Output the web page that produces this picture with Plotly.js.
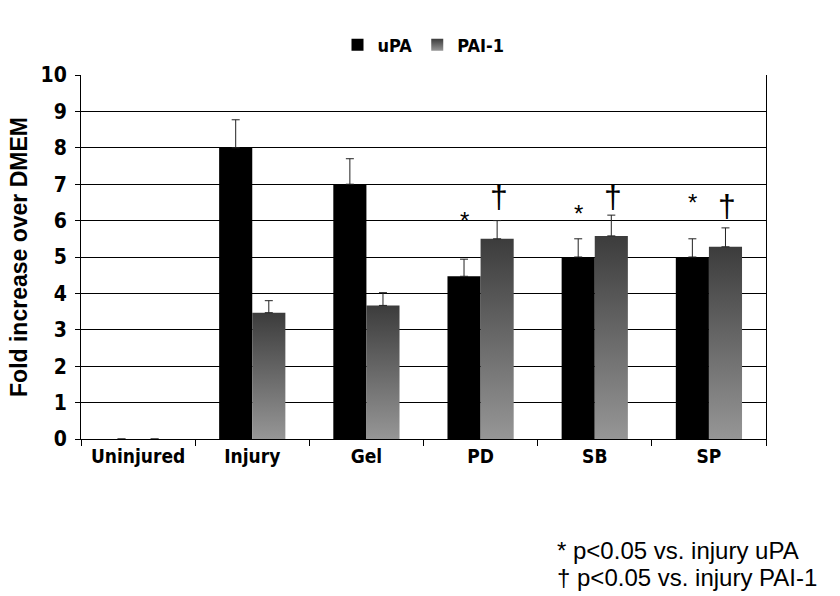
<!DOCTYPE html>
<html>
<head>
<meta charset="utf-8">
<script src="https://cdn.plot.ly/plotly-3.0.1.min.js"></script>
<style>html,body{margin:0;padding:0;background:#fff;}#chart{width:840px;height:596px;}</style>
</head>
<body>
<div id="chart"></div>
<script>
const categories = ["Uninjured", "Injury", "Gel", "PD", "SB", "SP"];
const uPA = [0, 8.0, 7.0, 4.47, 5.0, 5.0];
const uPAerr = [0, 0.77, 0.7, 0.47, 0.5, 0.5];
const PAI1 = [0, 3.47, 3.67, 5.5, 5.58, 5.28];
const PAI1err = [0, 0.33, 0.35, 0.5, 0.57, 0.52];
const starCats = ["PD", "SB", "SP"];
const starY = [6.0, 6.2, 6.5];
const daggerCats = ["PD", "SB", "SP"];
const daggerY = [6.65, 6.65, 6.4];
const yTicks = [0,1,2,3,4,5,6,7,8,9,10];

const narrow = "DejaVu Sans Condensed, Liberation Sans Narrow, Arial Narrow, sans-serif";
const errStyle = {type:"data", symmetric:false, arrayminus:[0,0,0,0,0,0], color:"#222", thickness:1, width:4};

const traces = [
  {type:"bar", name:"uPA", x:categories, y:uPA, marker:{color:"#000", line:{color:"#000", width:0}},
   error_y:Object.assign({}, errStyle, {array:uPAerr})},
  {type:"bar", name:"PAI-1", x:categories, y:PAI1, marker:{color:"#6a6a6a", line:{color:"#333", width:0}},
   error_y:Object.assign({}, errStyle, {array:PAI1err})}
];

const annotations = [];
starCats.forEach((c,i)=>annotations.push({x:c, y:starY[i], xref:"x", yref:"y", text:"*", showarrow:false, xshift:-16, font:{family:"Liberation Sans, Arial", size:24, color:"#000"}}));
daggerCats.forEach((c,i)=>annotations.push({x:c, y:daggerY[i], xref:"x", yref:"y", text:"†", showarrow:false, xshift:18, font:{family:"Liberation Sans, Arial", size:32, color:"#000"}}));
annotations.push({xref:"paper", yref:"paper", x:0.692, y:-0.305, xanchor:"left", yanchor:"middle", align:"left", showarrow:false,
  text:"* p<0.05 vs. injury uPA", font:{family:"Liberation Sans, Arial", size:24, color:"#000"}});
annotations.push({xref:"paper", yref:"paper", x:0.692, y:-0.38, xanchor:"left", yanchor:"middle", align:"left", showarrow:false,
  text:"† p<0.05 vs. injury PAI-1", font:{family:"Liberation Sans, Arial", size:24, color:"#000"}});

const layout = {
  width:840, height:596,
  margin:{l:81, r:74, t:75, b:157},
  paper_bgcolor:"#fff", plot_bgcolor:"#fff",
  barmode:"group", bargap:0.42, bargroupgap:0,
  showlegend:true,
  legend:{orientation:"h", x:0.5, xanchor:"center", y:1.082, yanchor:"middle", font:{family:narrow, size:18, color:"#000", weight:"bold"}, itemwidth:30, tracegroupgap:0},
  xaxis:{type:"category", showline:true, linecolor:"#000", linewidth:1, ticks:"outside", ticklen:6, tickcolor:"#000", tickson:"boundaries",
    showgrid:false, tickfont:{family:narrow, size:19, color:"#000", weight:"bold"}, fixedrange:true},
  yaxis:{range:[0,10], tickvals:yTicks, showline:true, mirror:true, linecolor:"#000", linewidth:1, ticks:"outside", ticklen:5, tickcolor:"#000",
    showgrid:true, gridcolor:"#000", gridwidth:1, zeroline:false, ticklabelstandoff:4,
    tickfont:{family:narrow, size:21, color:"#000", weight:"bold"},
    title:{text:"Fold increase over DMEM", font:{family:"Liberation Sans, Arial", size:23, color:"#000", weight:"bold"}, standoff:6}},
  annotations:annotations
};

function applyGradient(gd){
  const svg = gd.querySelector("svg.main-svg");
  if(!svg) return;
  let defs = svg.querySelector("defs");
  if(!svg.querySelector("#paiGrad")){
    const ns="http://www.w3.org/2000/svg";
    const g=document.createElementNS(ns,"linearGradient");
    g.setAttribute("id","paiGrad"); g.setAttribute("x1","0"); g.setAttribute("y1","0"); g.setAttribute("x2","0"); g.setAttribute("y2","1");
    [["0","#3c3c3c"],["1","#969696"]].forEach(s=>{const st=document.createElementNS(ns,"stop"); st.setAttribute("offset",s[0]); st.setAttribute("stop-color",s[1]); g.appendChild(st);});
    defs.appendChild(g);
  }
  const bars = gd.querySelectorAll(".barlayer .trace.bars");
  if(bars[1]) bars[1].querySelectorAll("path").forEach(p=>{p.style.fill="url(#paiGrad)";});
  const leg = gd.querySelectorAll(".legend .traces");
  if(leg[1]) leg[1].querySelectorAll(".legendpoints path").forEach(p=>{p.style.fill="url(#paiGrad)";});
}

Plotly.newPlot("chart", traces, layout, {displayModeBar:false, staticPlot:true}).then(gd=>{applyGradient(gd); gd.on("plotly_afterplot",()=>applyGradient(gd));});
</script>
</body>
</html>
